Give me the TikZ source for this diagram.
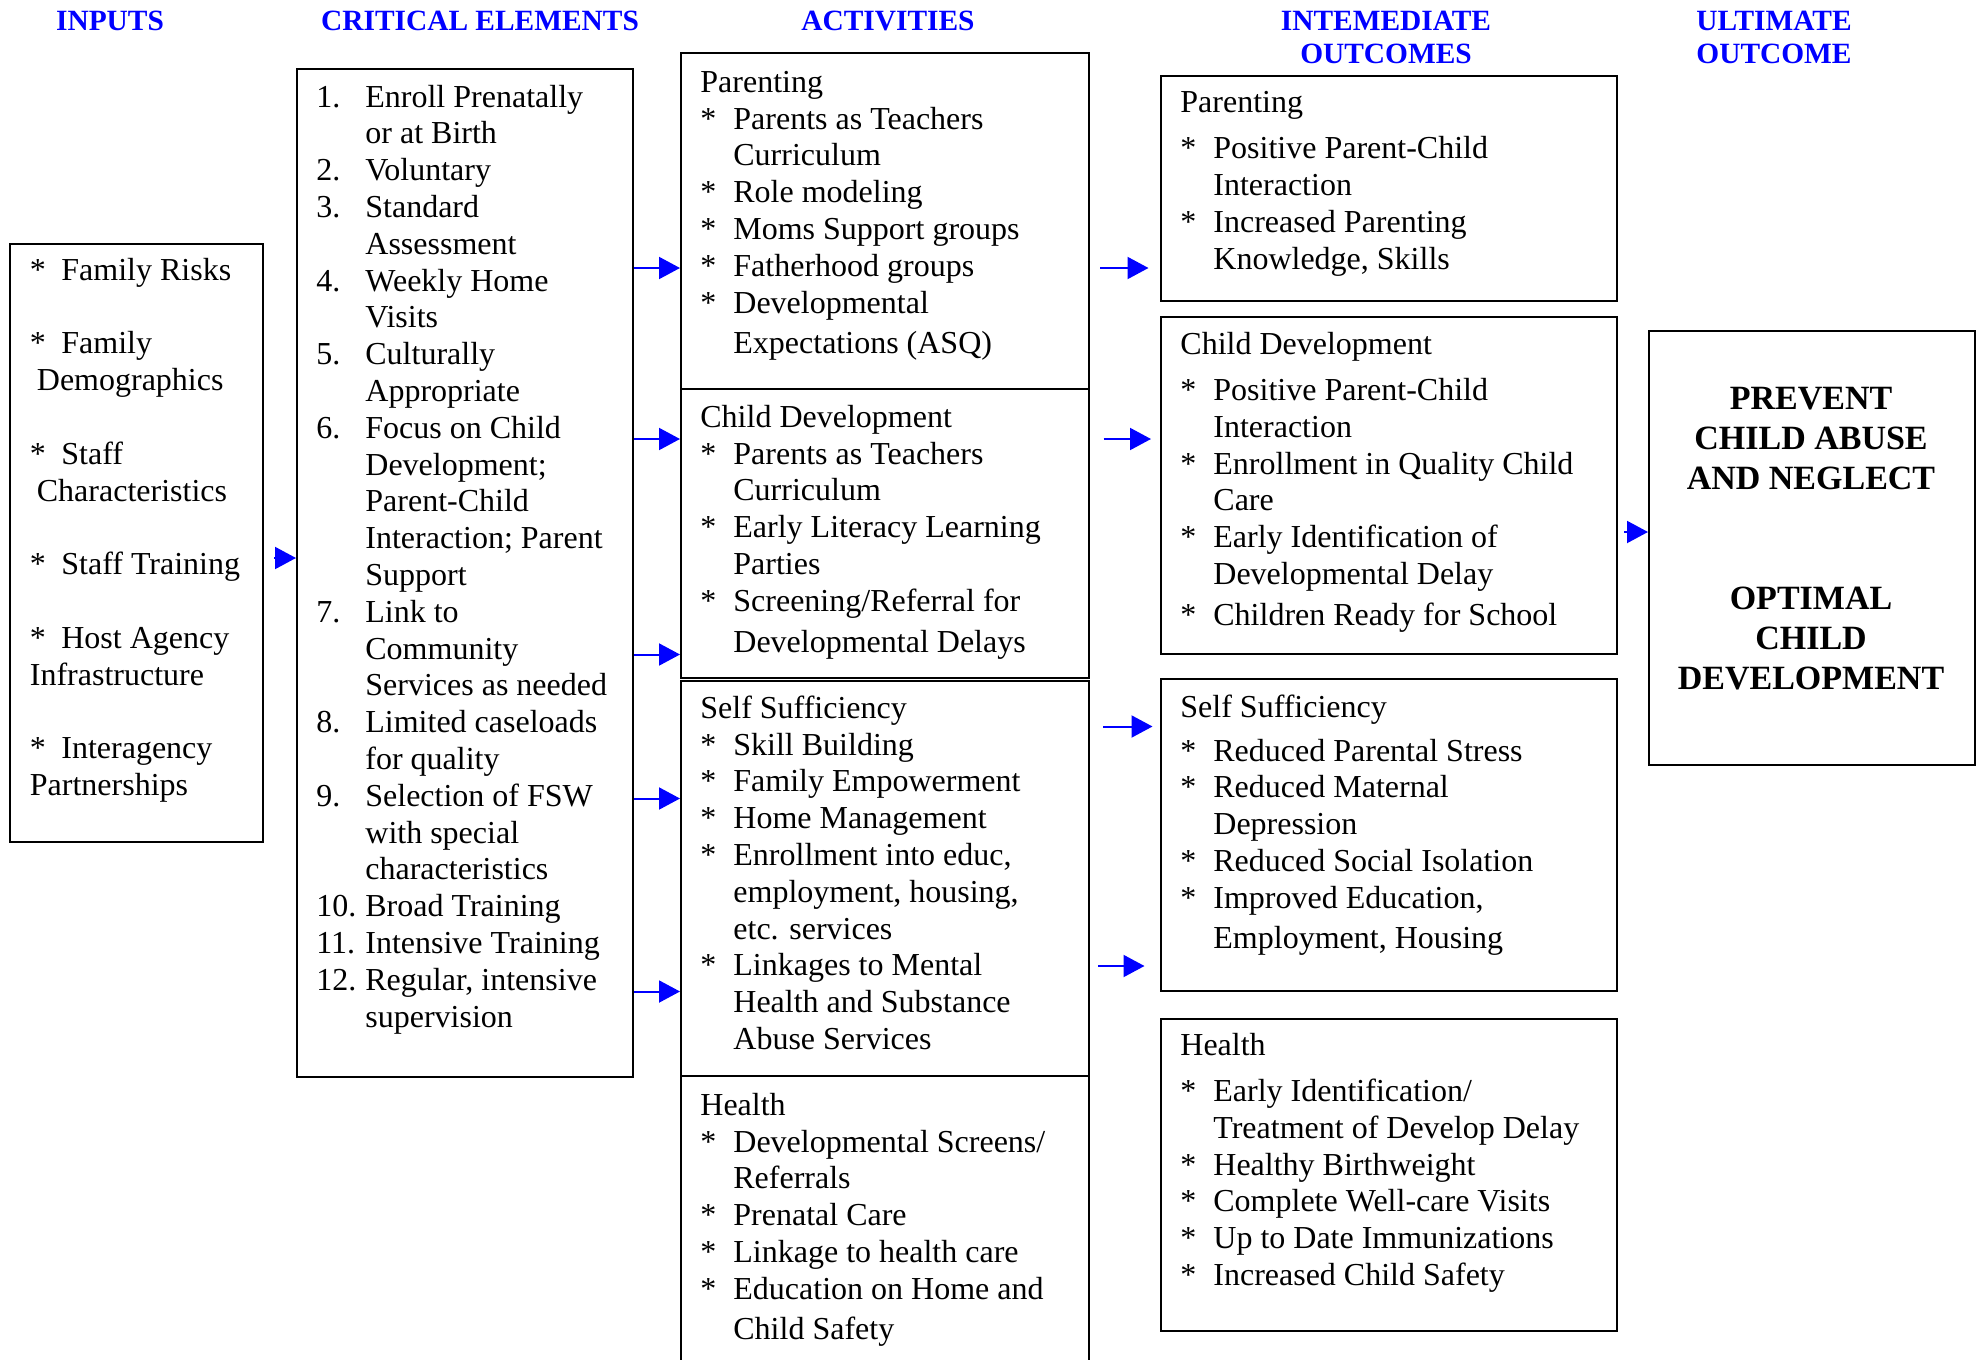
\documentclass[tikz,border=0pt]{standalone}
\usepackage{fontspec}
\setmainfont{Liberation Serif}
\usetikzlibrary{arrows.meta}
\definecolor{pureblue}{RGB}{0,0,255}
\newcommand{\stA}{\makebox[16.5pt][l]{*}}
\newcommand{\ctA}{\hspace*{16.5pt}}
\newcommand{\stI}{\makebox[15.75pt][l]{*}}
\newcommand{\numC}[1]{\makebox[24.5pt][l]{#1}}
\newcommand{\ctC}{\hspace*{24.5pt}}
\begin{document}
\begin{tikzpicture}[x=0.5pt,y=-0.5pt,
  box/.style={draw=black, line width=1.1pt, rectangle, inner sep=0pt, anchor=north west},
  txt/.style={anchor=north west, inner sep=0pt, align=left, font=\fontsize{16}{18.4}\selectfont},
  hdr/.style={anchor=north, inner sep=0pt, align=center, text=pureblue, font=\bfseries\fontsize{14.7}{16.5}\selectfont},
  ulttxt/.style={anchor=north, inner sep=0pt, align=center, font=\bfseries\fontsize{17}{20}\selectfont},
  arr/.style={draw=pureblue, line width=1pt, -{Triangle[length=10.5pt,width=11pt]}}
]
\useasboundingbox (0,0) rectangle (1983,1360);
\clip (0,0) rectangle (1983,1360);

% headers
\node[hdr] (hin) at (110,6.9) {\strut INPUTS};
\node[hdr] (hcr) at (480,6.9) {\strut CRITICAL ELEMENTS};
\node[hdr] (hac) at (888,6.9) {\strut ACTIVITIES};
\node[hdr] (hio) at (1386,6.9) {\strut INTEMEDIATE\\OUTCOMES};
\node[hdr] (huo) at (1774,6.9) {\strut ULTIMATE\\OUTCOME};

% boxes
\node[box, minimum width=126.5pt, minimum height=299pt] (inputs) at (9,243) {};
\node[box, minimum width=168pt, minimum height=504pt] (crit) at (296,68) {};
\node[box, minimum width=204pt, minimum height=168pt] (actpar) at (680,52) {};
\node[box, minimum width=204pt, minimum height=144.5pt] (actcd) at (680,388) {};
\node[box, minimum width=204pt, minimum height=197.5pt] (actss) at (680,680) {};
\node[box, minimum width=204pt, minimum height=162.5pt] (acth) at (680,1075) {};
\node[box, minimum width=228pt, minimum height=112.5pt] (intpar) at (1160,75) {};
\node[box, minimum width=228pt, minimum height=168.5pt] (intcd) at (1160,316) {};
\node[box, minimum width=228pt, minimum height=156pt] (intss) at (1160,678) {};
\node[box, minimum width=228pt, minimum height=156pt] (inth) at (1160,1018) {};
\node[box, minimum width=163pt, minimum height=217pt] (ult) at (1648,330) {};

% inputs text
\node[txt] (tin) at (29.5,254.2) {\strut\stI Family Risks\\[18.4pt]
\stI Family\\
\hspace*{3.5pt}Demographics\\[18.4pt]
\stI Staff\\
\hspace*{3.5pt}Characteristics\\[18.4pt]
\stI Staff Training\\[18.4pt]
\stI Host Agency\\
Infrastructure\\[18.4pt]
\stI Interagency\\
Partnerships};

% critical elements text
\node[txt] (tcr) at (316,81) {\strut\numC{1.}Enroll Prenatally\\
\ctC or at Birth\\
\numC{2.}Voluntary\\
\numC{3.}Standard\\
\ctC Assessment\\
\numC{4.}Weekly Home\\
\ctC Visits\\
\numC{5.}Culturally\\
\ctC Appropriate\\
\numC{6.}Focus on Child\\
\ctC Development;\\
\ctC Parent-Child\\
\ctC Interaction; Parent\\
\ctC Support\\
\numC{7.}Link to\\
\ctC Community\\
\ctC Services as needed\\
\numC{8.}Limited caseloads\\
\ctC for quality\\
\numC{9.}Selection of FSW\\
\ctC with special\\
\ctC characteristics\\
\numC{10.}Broad Training\\
\numC{11.}Intensive Training\\
\numC{12.}Regular, intensive\\
\ctC supervision};

% activities text
\node[txt] (tap) at (700,66.2) {\strut Parenting\\
\stA Parents as Teachers\\
\ctA Curriculum\\
\stA Role modeling\\
\stA Moms Support groups\\
\stA Fatherhood groups\\
\stA Developmental\\[2pt]
\ctA Expectations (ASQ)};

\node[txt] (tac) at (700,401.2) {\strut Child Development\\
\stA Parents as Teachers\\
\ctA Curriculum\\
\stA Early Literacy Learning\\
\ctA Parties\\
\stA Screening/Referral for\\[2pt]
\ctA Developmental Delays};

\node[txt] (tas) at (700,692.2) {\strut Self Sufficiency\\
\stA Skill Building\\
\stA Family Empowerment\\
\stA Home Management\\
\stA Enrollment into educ,\\
\ctA employment, housing,\\
\ctA etc. services\\
\stA Linkages to Mental\\
\ctA Health and Substance\\
\ctA Abuse Services};

\node[txt] (tah) at (700,1089.2) {\strut Health\\
\stA Developmental Screens/\\
\ctA Referrals\\
\stA Prenatal Care\\
\stA Linkage to health care\\
\stA Education on Home and\\[1.5pt]
\ctA Child Safety};

% intermediate outcomes text
\node[txt] (tip) at (1180,86.7) {\strut Parenting\\[4.5pt]
\stA Positive Parent-Child\\
\ctA Interaction\\
\stA Increased Parenting\\
\ctA Knowledge, Skills};

\node[txt] (tic) at (1180,328.5) {\strut Child Development\\[4.5pt]
\stA Positive Parent-Child\\
\ctA Interaction\\
\stA Enrollment in Quality Child\\
\ctA Care\\
\stA Early Identification of\\
\ctA Developmental Delay\\[2pt]
\stA Children Ready for School};

\node[txt] (tis) at (1180,691.2) {\strut Self Sufficiency\\[3.5pt]
\stA Reduced Parental Stress\\
\stA Reduced Maternal\\
\ctA Depression\\
\stA Reduced Social Isolation\\
\stA Improved Education,\\[1.5pt]
\ctA Employment, Housing};

\node[txt] (tih) at (1180,1029.5) {\strut Health\\[4.5pt]
\stA Early Identification/\\
\ctA Treatment of Develop Delay\\
\stA Healthy Birthweight\\
\stA Complete Well-care Visits\\
\stA Up to Date Immunizations\\
\stA Increased Child Safety};

% ultimate outcome text
\node[ulttxt] (tul) at (1811,381.4) {\strut PREVENT\\CHILD ABUSE\\AND NEGLECT\\[40pt]OPTIMAL\\CHILD\\DEVELOPMENT};

% arrow levels
\coordinate (y0) at (0,558);
\coordinate (y1) at (0,268);
\coordinate (y2) at (0,439);
\coordinate (y3) at (0,654.5);
\coordinate (y4) at (0,798.5);
\coordinate (y5) at (0,991.5);
\coordinate (y6) at (0,726.5);
\coordinate (y7) at (0,966);
\coordinate (y8) at (0,532);

% arrows
\draw[arr, shorten <=5pt] (inputs.east |- y0) -- (crit.west |- y0);
\draw[arr] (crit.east |- y1) -- (actpar.west |- y1);
\draw[arr] (crit.east |- y2) -- (actcd.west |- y2);
\draw[arr] (crit.east |- y3) -- (actcd.west |- y3);
\draw[arr] (crit.east |- y4) -- (actss.west |- y4);
\draw[arr] (crit.east |- y5) -- (actss.west |- y5);
\draw[arr, shorten <=5pt, shorten >=5.75pt] (actpar.east |- y1) -- (intpar.west |- y1);
\draw[arr, shorten <=6.75pt, shorten >=4.5pt] (actcd.east |- y2) -- (intcd.west |- y2);
\draw[arr, shorten <=6.5pt, shorten >=3.75pt] (actss.east |- y6) -- (intss.west |- y6);
\draw[arr, shorten <=4pt, shorten >=7.75pt] (actss.east |- y7) -- (intss.west |- y7);
\draw[arr, shorten <=3pt] (intcd.east |- y8) -- (ult.west |- y8);
\end{tikzpicture}
\end{document}
